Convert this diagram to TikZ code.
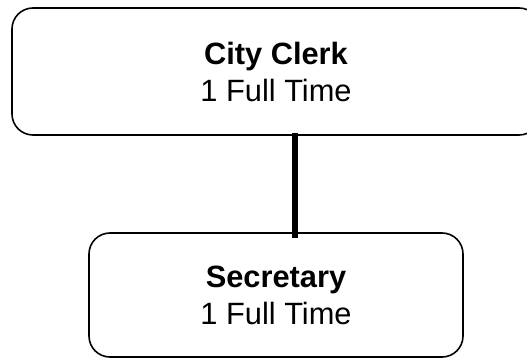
\documentclass[tikz,border=0pt]{standalone}
\usepackage{fontspec}
\setmainfont{Liberation Sans}
\begin{document}
\begin{tikzpicture}[x=1pt,y=-1pt,
  orgbox/.style={draw=black, line width=1.6pt, rounded corners=21pt, inner sep=0pt,
    align=center, font=\fontsize{30.8}{37}\selectfont, text=black},
  link/.style={draw=black, line width=5.3pt}]
\useasboundingbox (0,0) rectangle (527,358);
\clip (0,0) rectangle (527,358);
\node[orgbox, minimum width=528pt, minimum height=127pt] (clerk) at (276,71.5)
  {\textbf{City Clerk}\\1 Full Time};
\node[orgbox, minimum width=374pt, minimum height=124pt] (sec) at (276,295)
  {\textbf{Secretary}\\1 Full Time};
\coordinate (cx) at (295,0);
\draw[link] ([yshift=3pt]clerk.south -| cx) -- ([yshift=-6pt]sec.north -| cx);
\end{tikzpicture}
\end{document}
